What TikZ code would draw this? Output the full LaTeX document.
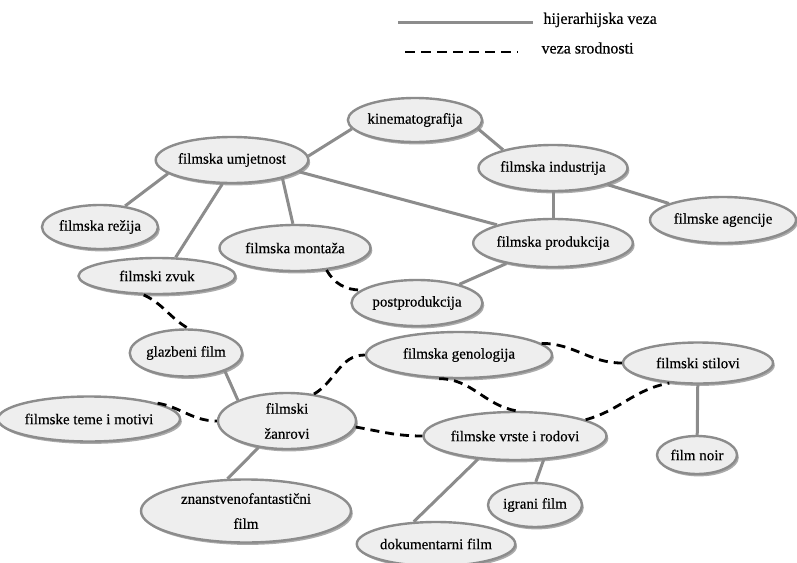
\documentclass[tikz,border=0pt]{standalone}
\usepackage{fontspec}
\setmainfont[FakeBold=0.4]{Liberation Serif}
\usetikzlibrary{shapes.geometric,shadows}

\begin{document}
\begin{tikzpicture}[x=1pt,y=1pt,
  pojam/.style={ellipse,draw=gray!90,line width=2.4pt,fill=gray!13,inner sep=0pt,align=center,
    font=\fontsize{15}{25}\selectfont,
    drop shadow={shadow xshift=1.8pt,shadow yshift=-2.4pt,opacity=.55,fill=black!60}},
  hij/.style={draw=gray!90,line width=3pt},
  srod/.style={draw=black,line width=2.8pt,dash pattern=on 9pt off 6pt}]
\useasboundingbox (0,0) rectangle (797,-562);
\fill[white] (0,0) rectangle (797,-562);

% legenda
\coordinate(h0) at (398,-22); \node(lh)[anchor=west,font=\fontsize{16}{18}\selectfont] at (540,-20) {hijerarhijska veza};
\coordinate(s0) at (405,-52); \node(ls)[anchor=west,font=\fontsize{16}{18}\selectfont] at (538,-48) {veza srodnosti};
\path (h0) edge[hij,shorten >=7pt] (h0-|lh.west);
\path (s0) edge[srod,dash pattern=on 10pt off 6pt,shorten >=20pt] (s0-|ls.west);

% pojmovi
\node(kin)[pojam,minimum width=128pt,minimum height=44pt] at (415,-120) {kinematografija};
\node(umj)[pojam,minimum width=152pt,minimum height=46pt] at (232,-160) {filmska umjetnost};
\node(ind)[pojam,minimum width=140pt,minimum height=46pt] at (553,-168) {filmska industrija};
\node(age)[pojam,minimum width=146pt,minimum height=46pt] at (723,-220) {filmske agencije};
\node(rez)[pojam,minimum width=106pt,minimum height=44pt] at (100,-227) {filmska režija};
\node(mon)[pojam,minimum width=151pt,minimum height=46pt] at (295,-248) {filmska montaža};
\node(pro)[pojam,minimum width=146pt,minimum height=48pt] at (553,-243) {filmska produkcija};
\node(zvu)[pojam,minimum width=157pt,minimum height=36pt] at (157,-276) {filmski zvuk};
\node(pos)[pojam,minimum width=131pt,minimum height=46pt] at (417,-303) {postprodukcija};
\node(gla)[pojam,minimum width=101pt,minimum height=47pt] at (186,-353) {glazbeni film};
\node(gen)[pojam,minimum width=186pt,minimum height=46pt] at (459,-355) {filmska genologija};
\node(sti)[pojam,minimum width=150pt,minimum height=41pt] at (698,-363) {filmski stilovi};
\node(tem)[pojam,minimum width=158pt,minimum height=45pt] at (89,-419) {filmske teme i motivi};
\node(zan)[pojam,minimum width=138pt,minimum height=56pt] at (287,-421) {filmski\\žanrovi};
\node(vrs)[pojam,minimum width=183pt,minimum height=48pt] at (515,-436) {filmske vrste i rodovi};
\node(noi)[pojam,minimum width=80pt,minimum height=38pt] at (697,-455) {film noir};
\node(zna)[pojam,minimum width=210pt,minimum height=63pt] at (246,-511) {znanstvenofantastični\\film};
\node(igr)[pojam,minimum width=94pt,minimum height=44pt] at (535,-505) {igrani film};
\node(dok)[pojam,minimum width=148pt,minimum height=44pt] at (436,-544) {dokumentarni film};

% hijerarhijske veze
\path (umj.3) edge[hij] (kin.-172);
\path (kin.-8) edge[hij] (ind.160);
\path (ind) edge[hij] (age) edge[hij] (pro);
\path (umj.-168) edge[hij] (rez.40);
\path (umj.-112) edge[hij] (zvu.45);
\path (umj.-20) edge[hij] (mon.95);
\path (umj.-10) edge[hij] (pro.162);
\path (pro) edge[hij] (pos);
\path (gla.-25) edge[hij] (zan.157);
\path (zan.-137) edge[hij] (zna.120);
\path (vrs.-148) edge[hij] (dok.135);
\path (vrs.-40) edge[hij] (igr.88);
\path (sti) edge[hij] (noi);

% veze srodnosti
\path (mon.-35) edge[srod,out=-60,in=180] (pos.167);
\path (zvu.-125) edge[srod,out=-25,in=150] (gla.85);
\path (tem.13) edge[srod,out=-10,in=180] (zan.180);
\path (zan.45) edge[srod,out=30,in=180] (gen.180);
\path (zan.-5) edge[srod,out=-10,in=180] (vrs.180);
\path (gen.8) edge[srod,out=0,in=180] (sti.180);
\path (gen.-130) edge[srod,out=0,in=170] (vrs.87);
\path (vrs.13) edge[srod,out=15,in=190] (sti.-145);
\end{tikzpicture}
\end{document}
